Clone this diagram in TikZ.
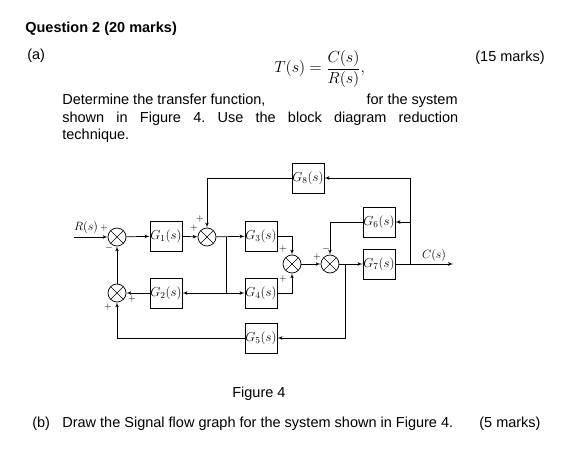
\RequirePackage{fix-cm}
\documentclass[tikz,border=0pt]{standalone}
\usepackage{fontspec}
\setmainfont{Liberation Sans}
\usepackage{tikz}
\usetikzlibrary{shapes,arrows,positioning}

\begin{document}
\frenchspacing
\begin{tikzpicture}[x=1pt, y=-1pt, line width=0.7pt]
                \tikzstyle{txt} = [inner sep=0pt, font=\fontsize{14.5}{17}\selectfont]
                \tikzstyle{blk} = [draw, rectangle, line width=0.8pt, minimum height=30pt, minimum width=31pt, inner sep=0.5pt, font=\fontsize{13}{15}\selectfont]
                \tikzstyle{sj} = [draw, circle, minimum size=18pt, inner sep=0pt, path picture={\draw (path picture bounding box.north west) -- (path picture bounding box.south east) (path picture bounding box.north east) -- (path picture bounding box.south west);}]
                \tikzstyle{sg} = [inner sep=0pt, font=\fontsize{10}{10}\selectfont]
                \tikzstyle{l} = [draw, -latex']
                \useasboundingbox (0,0) rectangle (566,470);

                % question text
                \node [txt, anchor=base west, font=\fontsize{14.5}{17}\selectfont\bfseries] (head) at (25,33) {Question 2 (20 marks)};
                \node [txt, anchor=base west] (pa) at (27,60) {(a)};
                \node [txt, anchor=base east] (ma) at (545,62) {(15 marks)};
                \node [inner sep=0pt, anchor=base west, font=\fontsize{16}{18}\selectfont] (tf) at (274,73) {$\displaystyle T(s)=\frac{C(s)}{R(s)},$};
                \node [txt, anchor=base west] (q1) at (62,105) {Determine the transfer function,};
                \node [txt, anchor=base east] (q1b) at (458,105) {for the system};
                \node [txt, anchor=base west] (q2) at (62,123) {\makebox[396pt][s]{shown in Figure 4. Use the block diagram reduction}};
                \node [txt, anchor=base west] (q3) at (62,140) {technique.};
                \node [txt, anchor=base west] (fig) at (232,398) {Figure 4};
                \node [txt, anchor=base west] (pb) at (32,428) {(b)};
                \node [txt, anchor=base west] (qb) at (62,428) {Draw the Signal flow graph for the system shown in Figure 4.};
                \node [txt, anchor=base west] (mb) at (479,428) {(5 marks)};

                % block diagram
                \node [sj] (s1) at (117,237) {};
                \node [blk] (g1) at (166,236) {$G_1(s)$};
                \node [sj] (s2) at (207,237) {};
                \node [blk] (g3) at (261,236) {$G_3(s)$};
                \node [blk] (g2) at (166,293) {$G_2(s)$};
                \node [blk] (g4) at (261,293) {$G_4(s)$};
                \node [sj] (s3) at (117,293) {};
                \node [blk] (g5) at (261,338) {$G_5(s)$};
                \node [blk] (g8) at (308,178) {$G_8(s)$};
                \node [sj] (s4) at (292,264) {};
                \node [sj] (s5) at (330,264) {};
                \node [blk] (g7) at (379,264) {$G_7(s)$};
                \node [blk] (g6) at (379,222) {$G_6(s)$};
                \coordinate (rin) at (74,237);
                \coordinate (b1) at (226,237);
                \coordinate (b1d) at (226,293);
                \coordinate (b2) at (345,264);
                \coordinate (b3) at (410,264);
                \coordinate (cout) at (453,264);
                \node [inner sep=0pt, font=\fontsize{12}{14}\selectfont] (rl) at (86,228) {$R(s)$};
                \node [inner sep=0pt, font=\fontsize{12}{14}\selectfont] (cl) at (434,256) {$C(s)$};

                \draw [l] (rin) -- (s1);
                \draw [l] (s1) -- (g1);
                \draw [l] (g1) -- (s2);
                \draw [l] (s2) -- (g3);
                \draw [l] (b1) -- (b1d) -- (g2);
                \draw [l] (b1d) -- (g4);
                \draw [l] (g2) -- (s3);
                \draw [l] (s3) -- (s1);
                \draw [l] (g5) -| (s3);
                \draw [l] (g3) -| (s4);
                \draw [l] (g4) -| (s4);
                \draw [l] (s4) -- (s5);
                \draw [l] (s5) -- (g7);
                \draw [l] (b2) |- (g5);
                \draw [l] (g7) -- (cout);
                \draw [l] (b3) |- (g6);
                \draw [l] (b3) |- (g8);
                \draw [l] (g6) -| (s5);
                \draw [l] (g8) -| (s2);

                % signs
                \node [sg] at (104,228) {$+$};
                \node [sg] at (109,248) {$-$};
                \node [sg] at (200,219) {$+$};
                \node [sg] at (194,228) {$+$};
                \node [sg] at (132,299) {$+$};
                \node [sg] at (108,307) {$+$};
                \node [sg] at (283,249) {$+$};
                \node [sg] at (283,279) {$+$};
                \node [sg] at (317,257) {$+$};
                \node [sg] at (326,249) {$-$};
            \end{tikzpicture}
\end{document}
